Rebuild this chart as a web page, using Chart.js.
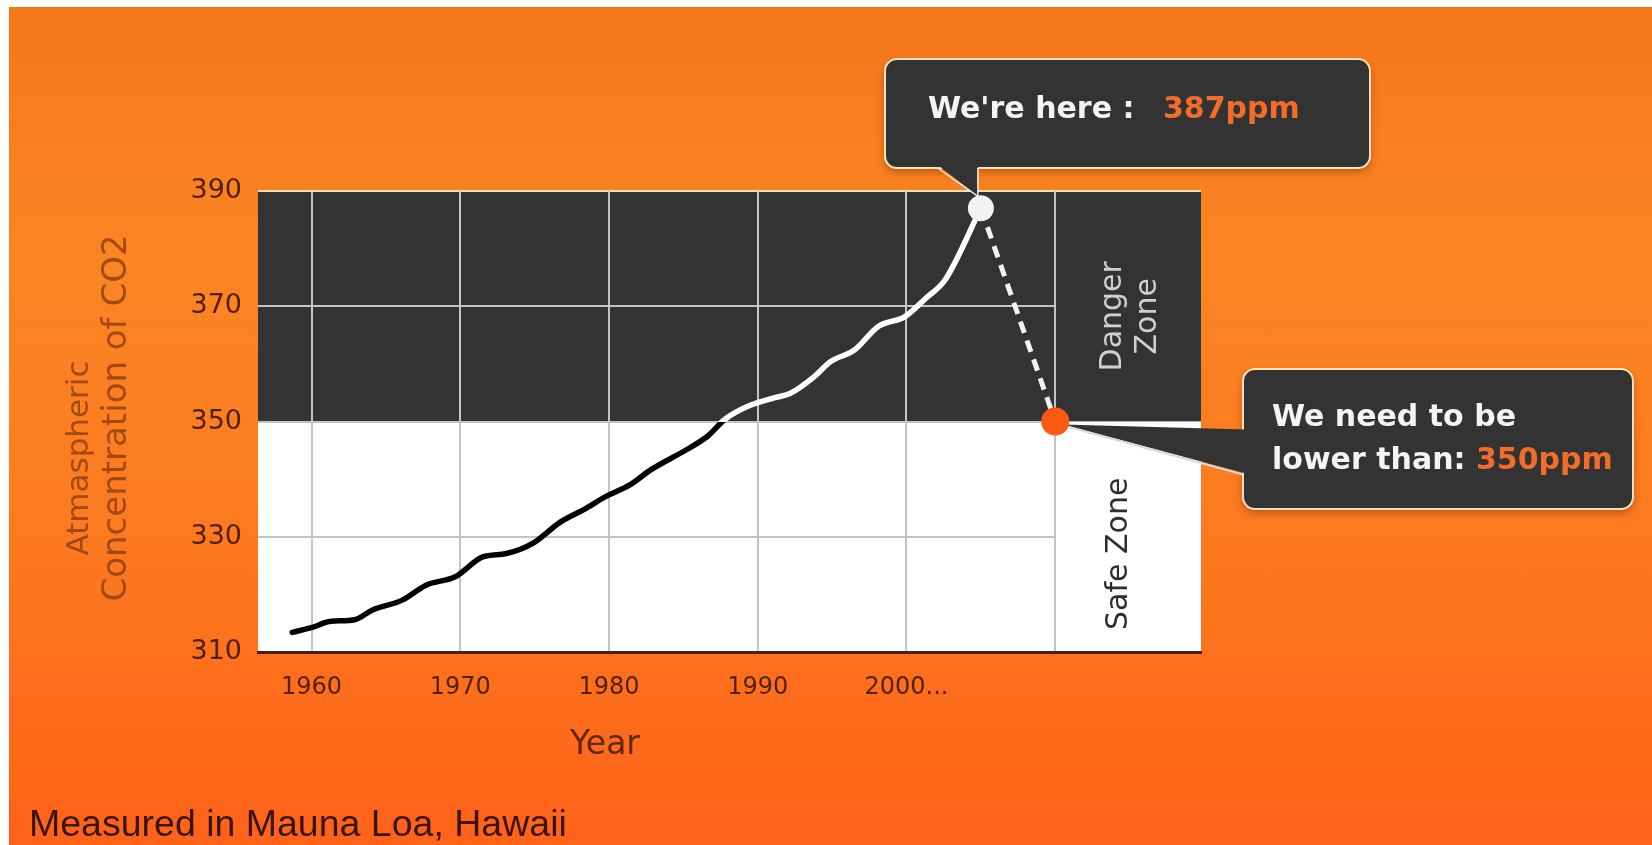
<!DOCTYPE html>
<html>
<head>
<meta charset="utf-8">
<title>Atmospheric CO2 - Mauna Loa</title>
<script src="https://cdn.jsdelivr.net/npm/chart.js@4.4.1/dist/chart.umd.min.js"></script>
<style>
  html, body { margin: 0; padding: 0; background: #fff; }
  body { width: 1652px; height: 845px; position: relative; overflow: hidden; }
  #bg {
    position: absolute; left: 9px; top: 7px; right: 0; bottom: 0;
    background: linear-gradient(180deg, #f7761c 0%, #fb8523 30%, #fd7a20 62%, #ff6219 100%);
  }
  canvas { position: absolute; left: 0; top: 0; }
</style>
</head>
<body>
<div id="bg"></div>
<canvas id="co2Chart" width="1652" height="845"></canvas>
<script>
  // Mauna Loa trend line (year, ppm)
  const trendYears = [1958.7, 1960.1, 1961.2, 1962.9, 1964.1, 1966.1, 1967.7, 1969.7, 1971.5, 1973.1,
    1974.9, 1976.7, 1978.3, 1979.8, 1981.4, 1982.8, 1985.2, 1986.6, 1987.8, 1989.3,
    1991.1, 1992.2, 1993.8, 1994.9, 1996.5, 1998.1, 1999.9, 2001.3, 2002.6];
  const trendPpm = [313.4, 314.3, 315.3, 315.6, 317.3, 319.0, 321.6, 323.1, 326.5, 327.1,
    328.9, 332.5, 334.7, 337.0, 339.0, 341.6, 345.1, 347.4, 350.4, 352.6,
    354.1, 354.9, 357.8, 360.4, 362.4, 366.5, 368.2, 371.4, 374.6];

  // "we're here" and the safe target
  const nowYear = 2005;
  const nowPpm = 387;
  const targetYear = 2010;
  const targetPpm = 350;

  const yearTicks = [1960, 1970, 1980, 1990, 2000, 2010];
  const yearTickLabels = ["1960", "1970", "1980", "1990", "2000...", ""];
  const ppmTicks = [310, 330, 350, 370, 390];

  const DARK = "#333333";
  const ORANGE = "#f26c2a";
  const TICK_BROWN = "#522208";

  // black below the safe limit, white above it
  function zoneStroke(context) {
    const chart = context.chart;
    const area = chart.chartArea;
    if (!area) return "#000";
    const ySafe = chart.scales.y.getPixelForValue(targetPpm);
    const stop = (area.bottom - ySafe) / (area.bottom - area.top);
    const g = chart.ctx.createLinearGradient(0, area.bottom, 0, area.top);
    g.addColorStop(0, "#000000");
    g.addColorStop(stop, "#000000");
    g.addColorStop(stop, "#ffffff");
    g.addColorStop(1, "#ffffff");
    return g;
  }

  function roundBox(ctx, x, y, w, h, r) {
    ctx.beginPath();
    ctx.moveTo(x + r, y);
    ctx.arcTo(x + w, y, x + w, y + h, r);
    ctx.arcTo(x + w, y + h, x, y + h, r);
    ctx.arcTo(x, y + h, x, y, r);
    ctx.arcTo(x, y, x + w, y, r);
    ctx.closePath();
  }

  function drawBox(ctx, x, y, w, h) {
    ctx.save();
    ctx.shadowColor = "rgba(110, 40, 0, 0.45)";
    ctx.shadowBlur = 8;
    ctx.shadowOffsetY = 4;
    roundBox(ctx, x, y, w, h, 12);
    ctx.fillStyle = DARK;
    ctx.fill();
    ctx.shadowColor = "transparent";
    ctx.lineWidth = 2;
    ctx.strokeStyle = "#f7e2bd";
    ctx.stroke();
    ctx.restore();
  }

  const zonesPlugin = {
    id: "zones",
    beforeDraw(chart) {
      const { ctx, chartArea: a } = chart;
      const { x, y } = chart.scales;
      const ySafe = y.getPixelForValue(targetPpm);
      const xEnd = x.getPixelForValue(targetYear);
      ctx.save();
      ctx.fillStyle = DARK;
      ctx.fillRect(a.left, a.top, a.right - a.left, ySafe - a.top);
      ctx.fillStyle = "#ffffff";
      ctx.fillRect(a.left, ySafe, a.right - a.left, a.bottom - ySafe);

      // horizontal grid stops at the last decade line
      ctx.strokeStyle = "#c4c4c4";
      ctx.lineWidth = 2;
      ppmTicks.slice(1, -1).forEach((v) => {
        const py = Math.round(y.getPixelForValue(v));
        ctx.beginPath();
        ctx.moveTo(a.left, py);
        ctx.lineTo(xEnd, py);
        ctx.stroke();
      });
      ctx.strokeStyle = "#f6dfb6";
      ctx.beginPath();
      ctx.moveTo(a.left, a.top);
      ctx.lineTo(a.right, a.top);
      ctx.stroke();
      ctx.restore();
    },
    beforeDatasetsDraw(chart) {
      const { ctx, chartArea: a } = chart;
      const { x, y } = chart.scales;
      const xEnd = x.getPixelForValue(targetYear);
      const ySafe = y.getPixelForValue(targetPpm);
      const colMid = (xEnd + a.right) / 2;

      ctx.save();
      ctx.font = "30px 'DejaVu Sans'";
      ctx.textAlign = "center";
      ctx.textBaseline = "middle";

      ctx.save();
      ctx.translate(colMid + 2, (a.top + ySafe) / 2 + 10);
      ctx.rotate(-Math.PI / 2);
      ctx.fillStyle = "#d0d0d0";
      ctx.fillText("Danger", 0, -17);
      ctx.fillText("Zone", 0, 18);
      ctx.restore();

      ctx.save();
      ctx.translate(colMid - 9, (ySafe + a.bottom) / 2 + 17);
      ctx.rotate(-Math.PI / 2);
      ctx.fillStyle = "#2e2e2e";
      ctx.fillText("Safe Zone", 0, 0);
      ctx.restore();

      // callout: current level
      const nx = x.getPixelForValue(nowYear);
      const ny = y.getPixelForValue(nowPpm);
      drawBox(ctx, 885, 59, 485, 109);
      ctx.fillStyle = DARK;
      ctx.beginPath();
      ctx.moveTo(nx - 43, 165);
      ctx.lineTo(nx - 3, ny - 12);
      ctx.lineTo(nx - 3, 165);
      ctx.closePath();
      ctx.fill();
      ctx.strokeStyle = "#eeeeee";
      ctx.lineWidth = 1.5;
      ctx.beginPath();
      ctx.moveTo(nx - 43, 168);
      ctx.lineTo(nx - 3, ny - 12);
      ctx.lineTo(nx - 3, 168);
      ctx.stroke();

      ctx.textAlign = "left";
      ctx.font = "bold 30px 'DejaVu Sans'";
      ctx.fillStyle = "#f4f4f4";
      ctx.fillText("We're here :", 928, 110);
      ctx.fillStyle = ORANGE;
      ctx.fillText(nowPpm + "ppm", 1163, 110);

      // callout: target level
      const tx = x.getPixelForValue(targetYear);
      const ty = y.getPixelForValue(targetPpm);
      drawBox(ctx, 1243, 369, 390, 140);
      ctx.fillStyle = DARK;
      ctx.beginPath();
      ctx.moveTo(tx + 8, ty + 3);
      ctx.lineTo(1246, ty + 8);
      ctx.lineTo(1246, ty + 52);
      ctx.closePath();
      ctx.fill();
      ctx.strokeStyle = "#d9d9d9";
      ctx.lineWidth = 2;
      ctx.beginPath();
      ctx.moveTo(tx + 8, ty + 4);
      ctx.lineTo(1243, ty + 53);
      ctx.stroke();

      ctx.fillStyle = "#f4f4f4";
      ctx.fillText("We need to be", 1272, 418);
      const lead = "lower than: ";
      ctx.fillText(lead, 1272, 461);
      ctx.fillStyle = ORANGE;
      ctx.fillText(targetPpm + "ppm", 1272 + ctx.measureText(lead).width, 461);
      ctx.restore();
    },
    afterDraw(chart) {
      const ctx = chart.ctx;
      ctx.save();
      ctx.textAlign = "center";
      ctx.textBaseline = "middle";
      ctx.fillStyle = "#a24a14";
      ctx.font = "31px 'DejaVu Sans'";
      ctx.save();
      ctx.translate(80, 458);
      ctx.rotate(-Math.PI / 2);
      ctx.fillText("Atmaspheric", 0, 0);
      ctx.restore();
      ctx.font = "34px 'DejaVu Sans'";
      ctx.save();
      ctx.translate(117, 418);
      ctx.rotate(-Math.PI / 2);
      ctx.fillText("Concentration of CO2", 0, 0);
      ctx.restore();

      ctx.fillStyle = "#62270a";
      ctx.font = "33px 'DejaVu Sans'";
      ctx.fillText("Year", 605, 745);

      ctx.textAlign = "left";
      ctx.textBaseline = "alphabetic";
      ctx.fillStyle = "#3a1506";
      ctx.font = "37.5px 'Liberation Sans'";
      ctx.fillText("Measured in Mauna Loa, Hawaii", 29, 836);
      ctx.restore();
    },
  };

  window.addEventListener("load", setup);

  function setup() {
    const ctx = document.getElementById("co2Chart").getContext("2d");
    const trendPoints = trendYears.map((yr, i) => ({ x: yr, y: trendPpm[i] }));
    trendPoints.push({ x: nowYear, y: nowPpm });

    new Chart(ctx, {
      type: "line",
      data: {
        datasets: [
          {
            label: "CO2",
            data: trendPoints,
            borderColor: zoneStroke,
            borderWidth: 5.5,
            borderCapStyle: "round",
            borderJoinStyle: "round",
            cubicInterpolationMode: "monotone",
            pointRadius: 0,
            order: 3,
          },
          {
            label: "Path",
            data: [{ x: nowYear, y: nowPpm }, { x: targetYear, y: targetPpm }],
            borderColor: "#f2f2f2",
            borderWidth: 5,
            borderDash: [12, 8],
            pointRadius: 0,
            order: 2,
          },
          {
            label: "Now",
            data: [{ x: nowYear, y: nowPpm }],
            showLine: false,
            pointRadius: 13,
            pointBackgroundColor: "#f2f2f2",
            pointBorderWidth: 0,
            clip: false,
            order: 1,
          },
          {
            label: "Target",
            data: [{ x: targetYear, y: targetPpm }],
            showLine: false,
            pointRadius: 14,
            pointBackgroundColor: "#ff5a14",
            pointBorderWidth: 0,
            clip: false,
            order: 0,
          },
        ],
      },
      options: {
        responsive: false,
        animation: false,
        devicePixelRatio: 1,
        layout: { padding: { top: 191, right: 451, bottom: 0, left: 0 } },
        plugins: {
          legend: { display: false },
          tooltip: { enabled: false },
        },
        scales: {
          x: {
            type: "linear",
            min: 1956.4,
            max: 2019.8,
            afterBuildTicks: (axis) => {
              axis.ticks = yearTicks.map((v) => ({ value: v }));
            },
            afterFit: (axis) => {
              axis.height = 193;
            },
            grid: { color: "#c4c4c4", lineWidth: 2, drawTicks: false },
            border: { color: "#4a2008", width: 3 },
            ticks: {
              padding: 21,
              color: TICK_BROWN,
              autoSkip: false,
              maxRotation: 0,
              font: { family: "DejaVu Sans", size: 24 },
              callback: (value, index) => yearTickLabels[index],
            },
          },
          y: {
            min: 310,
            max: 390,
            afterBuildTicks: (axis) => {
              axis.ticks = ppmTicks.map((v) => ({ value: v }));
            },
            afterFit: (axis) => {
              axis.width = 258;
            },
            grid: { display: false, drawTicks: false },
            border: { display: false },
            ticks: {
              padding: 16,
              color: TICK_BROWN,
              font: { family: "DejaVu Sans", size: 27 },
            },
          },
        },
      },
      plugins: [zonesPlugin],
    });
  }
</script>
</body>
</html>
